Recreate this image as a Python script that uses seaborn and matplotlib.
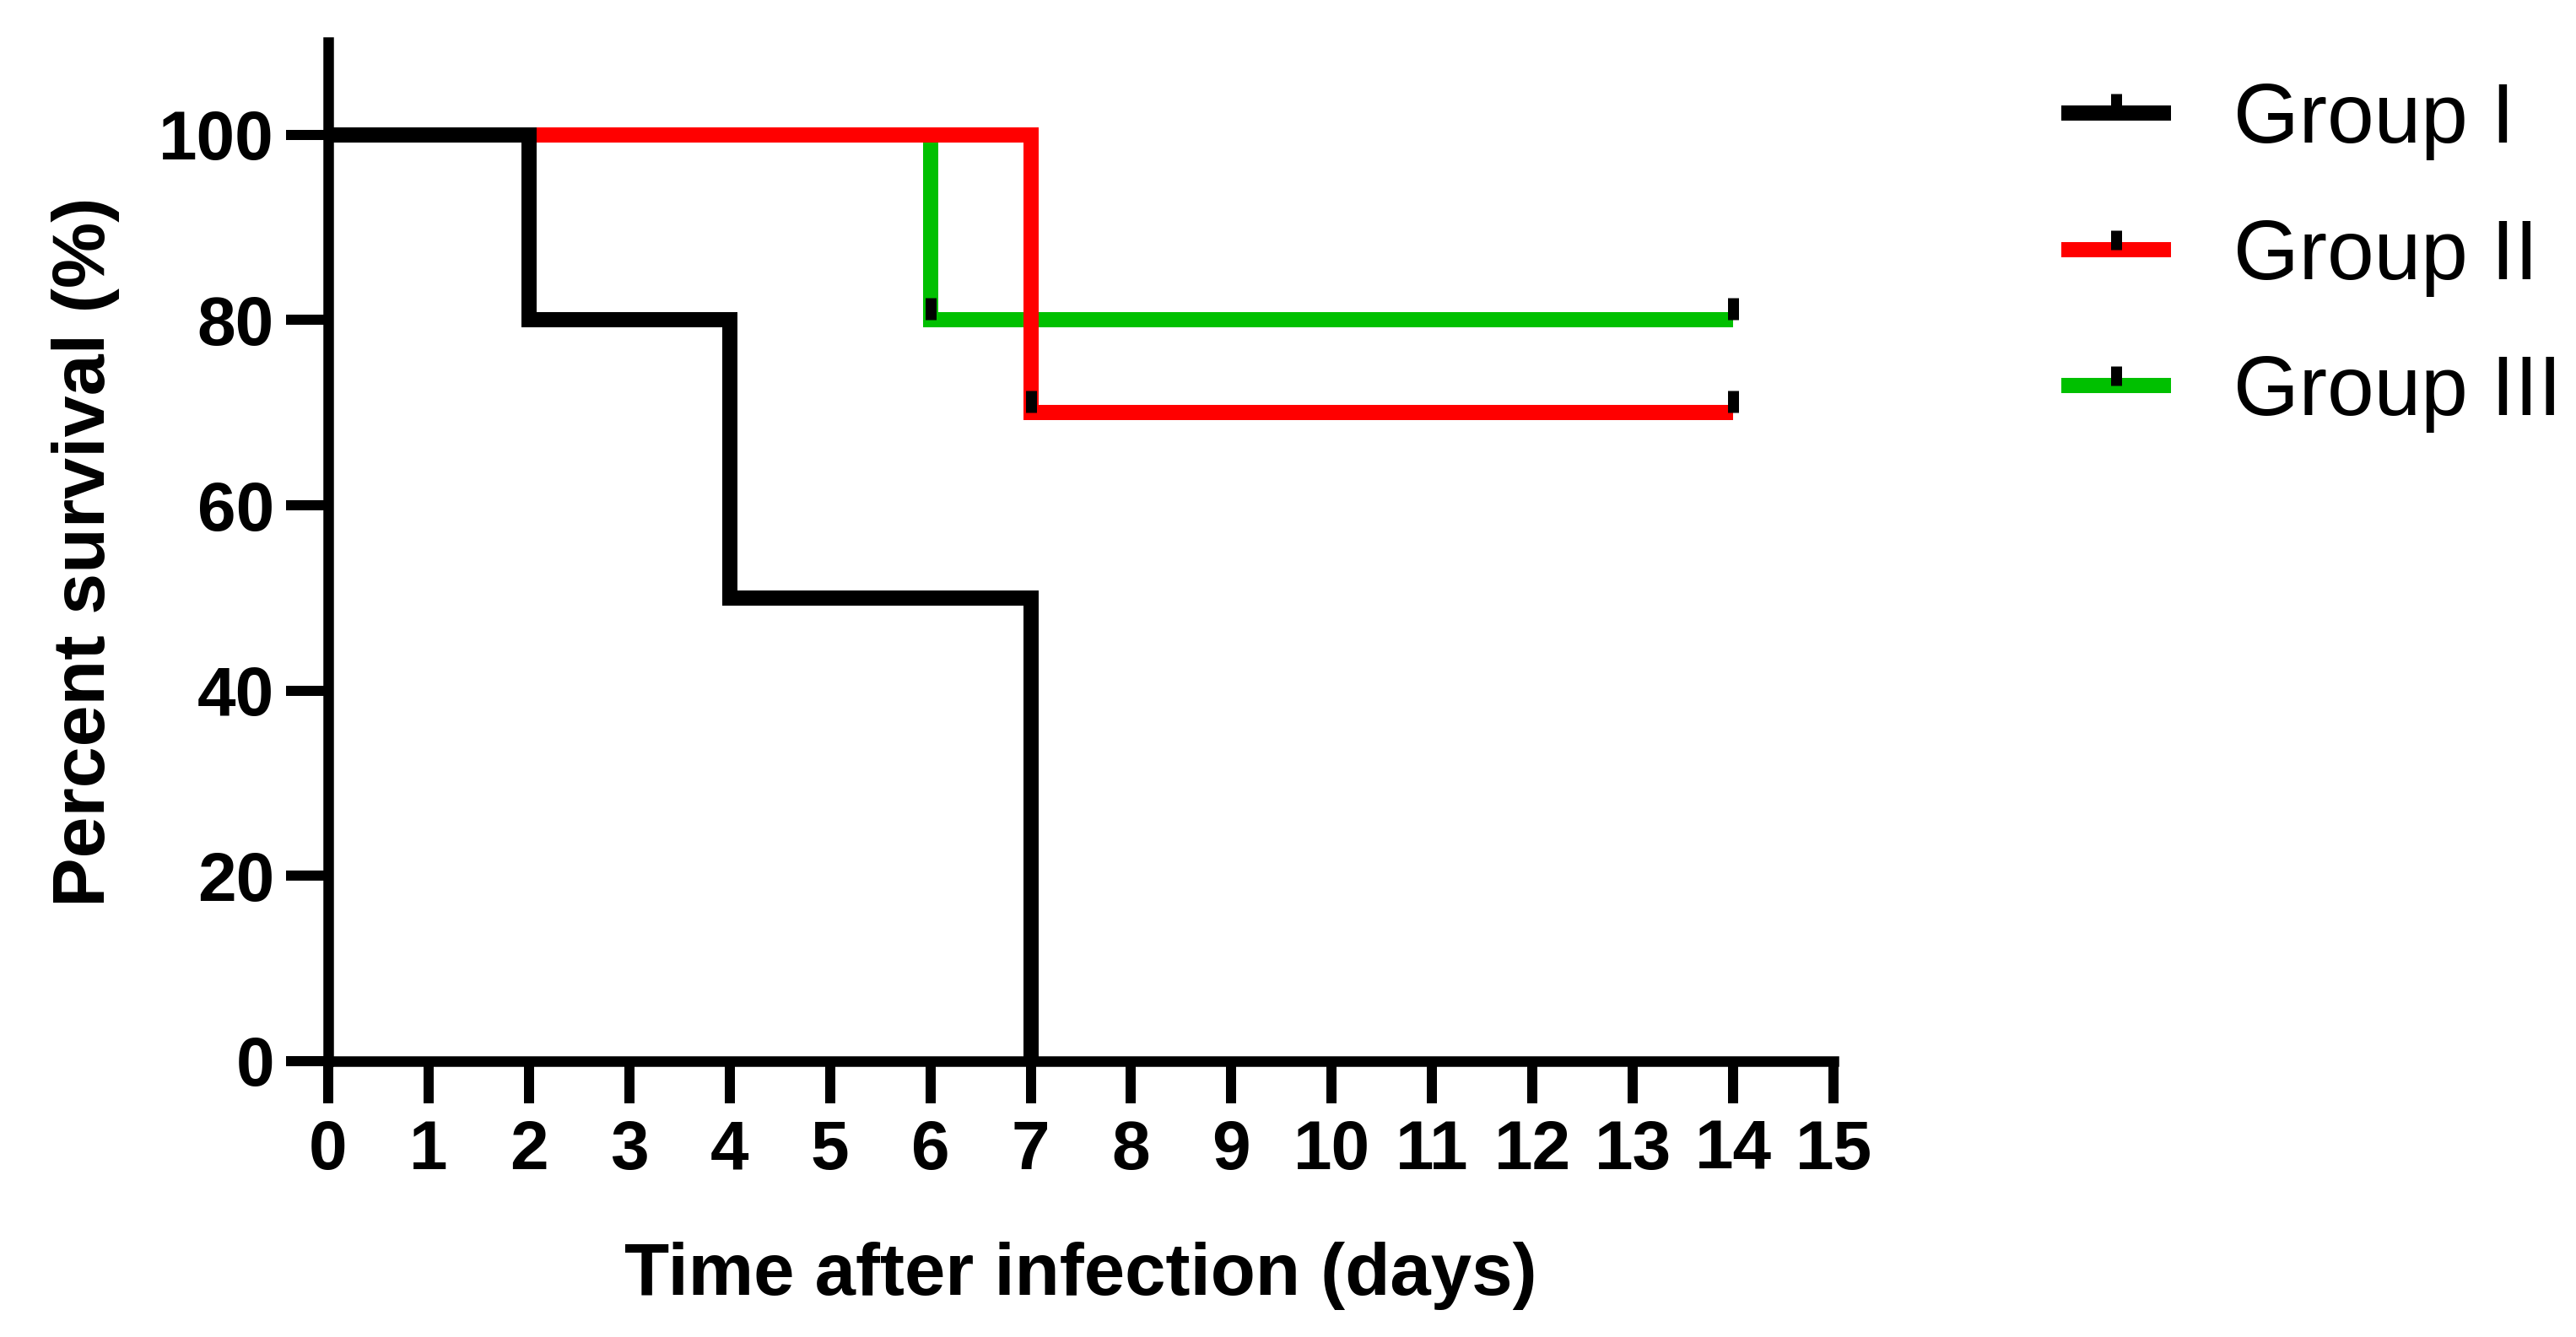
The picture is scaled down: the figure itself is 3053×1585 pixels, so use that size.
import matplotlib
matplotlib.use("Agg")
import matplotlib.pyplot as plt
import numpy as np
import pandas as pd
import seaborn as sns
from matplotlib.lines import Line2D

# ---------------- data ----------------
groups = ["Group I", "Group II", "Group III"]
colors = {"Group I": "#000000", "Group II": "#FF0000", "Group III": "#00C000"}

g1_days = [0, 2, 4, 7]
g1_surv = [100, 80, 50, 0]
g2_days = [0, 7, 14]
g2_surv = [100, 70, 70]
g3_days = [0, 6, 14]
g3_surv = [100, 80, 80]

g2_cens_days = [7, 14]
g2_cens_surv = [70, 70]
g3_cens_days = [6, 14]
g3_cens_surv = [80, 80]

x_ticks = list(range(0, 16))
y_ticks = [0, 20, 40, 60, 80, 100]

df = pd.concat([
    pd.DataFrame({"day": g1_days, "surv": g1_surv, "group": "Group I"}),
    pd.DataFrame({"day": g2_days, "surv": g2_surv, "group": "Group II"}),
    pd.DataFrame({"day": g3_days, "surv": g3_surv, "group": "Group III"}),
], ignore_index=True)

# ---------------- style ----------------
sns.set_style("ticks")
plt.rcParams["font.family"] = ["Liberation Sans", "DejaVu Sans"]
plt.rcParams["text.color"] = "black"
plt.rcParams["axes.labelcolor"] = "black"
plt.rcParams["xtick.color"] = "black"
plt.rcParams["ytick.color"] = "black"

DPI = 100
fig = plt.figure(figsize=(30.53, 15.85), dpi=DPI)
ax = fig.add_axes([389 / 3053, (1585 - 1258) / 1585, (2173 - 389) / 3053, 1208 / 1585])

px = 72.0 / DPI  # points per pixel
LW = 18 * px

zorders = {"Group III": 3, "Group II": 4, "Group I": 5}
for g in ["Group III", "Group II", "Group I"]:
    sub = df[df["group"] == g]
    sns.lineplot(data=sub, x="day", y="surv", color=colors[g], ax=ax,
                 estimator=None, sort=True, legend=False,
                 drawstyle="steps-post", linewidth=LW,
                 solid_capstyle="butt", solid_joinstyle="miter",
                 zorder=zorders[g], clip_on=False)

# censor marks: short vertical bars rising from the line
cens_marker = [(0, 0), (0, 1)]
MS = 52 * px
MEW = 13 * px
for d, s in [(g2_cens_days, g2_cens_surv), (g3_cens_days, g3_cens_surv)]:
    ax.plot(d, s, linestyle="none", marker=cens_marker, markersize=MS,
            markeredgewidth=MEW, color="black", zorder=6, clip_on=False)

ax.set_xlim(0, 15)
ax.set_ylim(0, 110)
ax.set_xticks(x_ticks)
ax.set_yticks(y_ticks)

for side in ["top", "right"]:
    ax.spines[side].set_visible(False)
for side in ["left", "bottom"]:
    ax.spines[side].set_linewidth(12.5 * px)
    ax.spines[side].set_color("black")
    ax.spines[side].set_capstyle("projecting")

tick_font = 82 * px
ax.tick_params(axis="both", direction="out", length=50 * px, width=12 * px,
               color="black", labelsize=tick_font, labelcolor="black")
ax.tick_params(axis="x", pad=19 * px)
ax.tick_params(axis="y", pad=14 * px)
for lbl in ax.get_xticklabels() + ax.get_yticklabels():
    lbl.set_fontweight("bold")

ax.set_xlabel("Time after infection (days)", fontsize=87 * px, fontweight="bold",
              color="black")
ax.set_ylabel("Percent survival (%)", fontsize=88 * px, fontweight="bold",
              color="black")
ax.xaxis.set_label_coords((1281 - 389) / 1784, (1258 - 1535) / 1208)
ax.xaxis.label.set_va("baseline")
ax.yaxis.set_label_coords((102 - 389) / 1784, 0.5)
ax.yaxis.label.set_va("center")

# legend
handles = []
for g in groups:
    line = Line2D([], [], color=colors[g], linewidth=LW, solid_capstyle="butt")
    mark = Line2D([], [], linestyle="none", marker=cens_marker, markersize=MS * 0.9,
                  markeredgewidth=MEW, color="black")
    handles.append((line, mark))
leg = fig.legend(handles, groups, loc="upper left",
                 bbox_to_anchor=(2443 / 3053, 1 - 96 / 1585),
                 frameon=False, borderpad=0, borderaxespad=0,
                 fontsize=100 * px, handlelength=1.3, handletextpad=0.74,
                 labelspacing=0.675)
for t in leg.get_texts():
    t.set_color("black")

fig.savefig("out.png", dpi=DPI, facecolor="white")
